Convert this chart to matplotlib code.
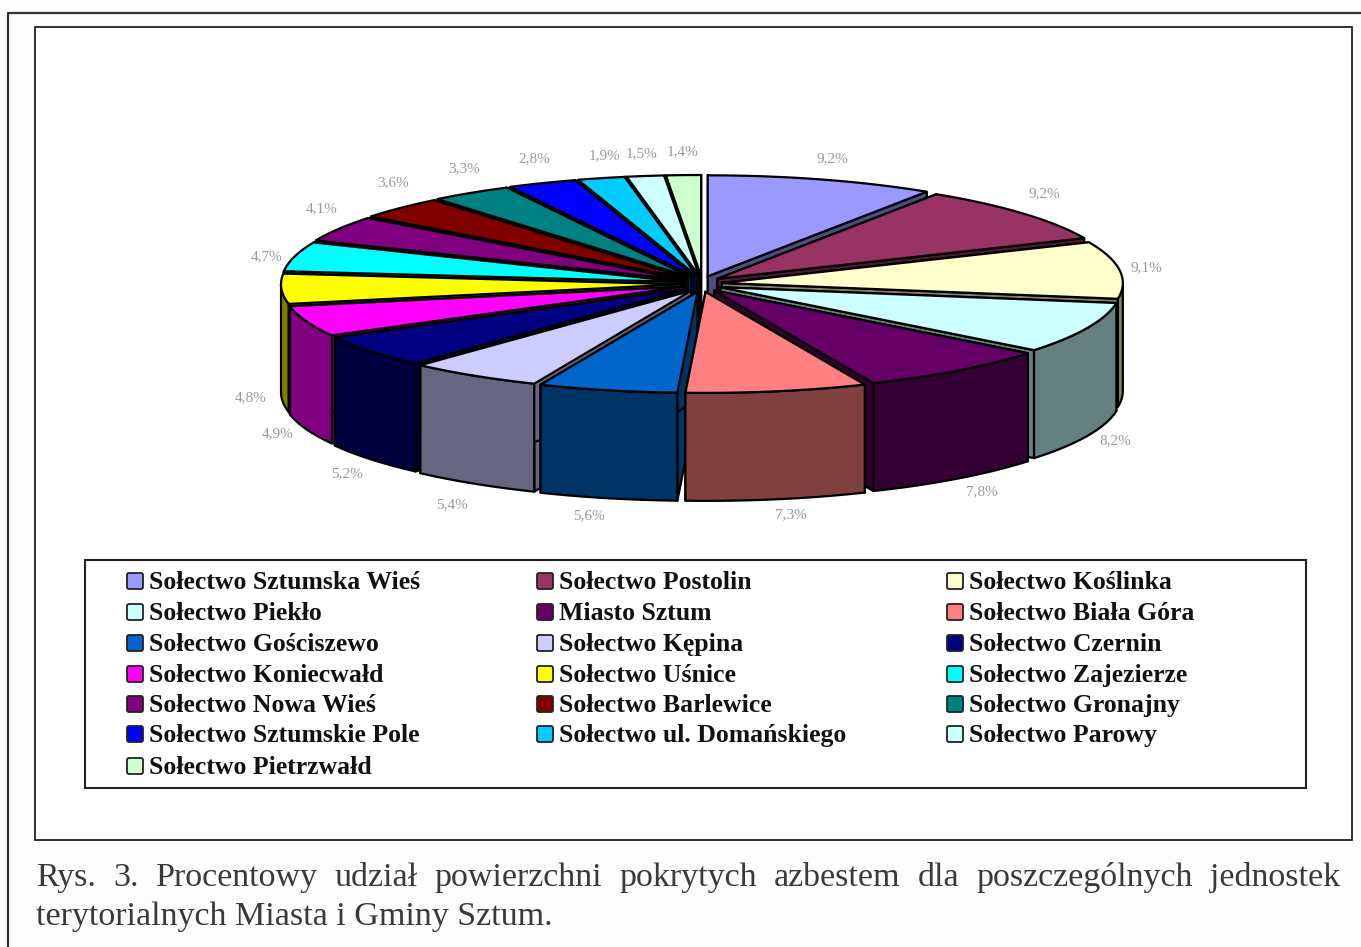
import numpy as np
import matplotlib
matplotlib.use('Agg')
import matplotlib.pyplot as plt
from matplotlib.patches import Polygon, Rectangle, FancyBboxPatch

# slices, clockwise from 12 o'clock
names = ['Sołectwo Sztumska Wieś', 'Sołectwo Postolin', 'Sołectwo Koślinka',
         'Sołectwo Piekło', 'Miasto Sztum', 'Sołectwo Biała Góra',
         'Sołectwo Gościszewo', 'Sołectwo Kępina', 'Sołectwo Czernin',
         'Sołectwo Koniecwałd', 'Sołectwo Uśnice', 'Sołectwo Zajezierze',
         'Sołectwo Nowa Wieś', 'Sołectwo Barlewice', 'Sołectwo Gronajny',
         'Sołectwo Sztumskie Pole', 'Sołectwo ul. Domańskiego', 'Sołectwo Parowy',
         'Sołectwo Pietrzwałd']
values = [9.2, 9.2, 9.1, 8.2, 7.8, 7.3, 5.6, 5.4, 5.2, 4.9, 4.8, 4.7, 4.1, 3.6, 3.3, 2.8, 1.9, 1.5, 1.4]
colors = ['#9999FF', '#993366', '#FFFFCC', '#CCFFFF', '#660066', '#FF8080', '#0066CC',
          '#CCCCFF', '#000080', '#FF00FF', '#FFFF00', '#00FFFF', '#800080', '#800000',
          '#008080', '#0000FF', '#00CCFF', '#CCFFFF', '#CCFFCC']

caption_1 = 'Rys. 3. Procentowy udział powierzchni pokrytych azbestem dla poszczególnych jednostek'
caption_2 = 'terytorialnych Miasta i Gminy Sztum.'

# pie geometry, pixels
cx, cy = 702, 284
rx, ry = 401, 101
depth = 108
explode_x, explode_y = 20, 8

# small shifts of the data labels from their computed spot
label_shift = {0: (2, 1), 1: (-2, -5), 2: (-4, 1), 4: (5, 3), 5: (8, 3), 6: (-12, 5), 7: (-5, 10), 8: (0, 6),
               11: (2, 6), 12: (9, -8), 13: (15, -9), 14: (10, -5), 15: (4, -3), 16: (11, 0)}

plt.rcParams['font.family'] = ['Liberation Serif', 'DejaVu Serif']

fig = plt.figure(figsize=(13.61, 9.47), dpi=100, facecolor='#FDFDFD')
ax = fig.add_axes([0, 0, 1, 1])
ax.set_xlim(0, 1361)
ax.set_ylim(947, 0)
ax.axis('off')

# outer page frame and chart frame
ax.plot([8, 8, 1361], [947, 13, 13], color='#333333', lw=1.6)
ax.add_patch(Rectangle((35, 27), 1317, 813, fc='white', ec='#222222', lw=1.3))


def darker(col):
    rgb = np.array(matplotlib.colors.to_rgb(col))
    return rgb * 0.5


def arc(a0, a1, ox, oy):
    t = np.radians(np.linspace(a0, a1, 60))
    return np.column_stack([ox + rx * np.sin(t), oy - ry * np.cos(t)])


def draw_slice(a0, a1, col):
    mid = np.radians((a0 + a1) / 2)
    ox = cx + explode_x * np.sin(mid)
    oy = cy - explode_y * np.cos(mid)
    top = arc(a0, a1, ox, oy)
    apex = np.array([ox, oy])
    down = np.array([0, depth])
    side = darker(col)
    style = dict(fc=side, ec='black', lw=1.6, joinstyle='round')
    # cut faces
    for p in (top[0], top[-1]):
        ax.add_patch(Polygon([apex, p, p + down, apex + down], **style))
    # outer wall, only the part facing the viewer
    lo, hi = max(a0, 90), min(a1, 270)
    if hi > lo:
        edge = arc(lo, hi, ox, oy)
        ax.add_patch(Polygon(np.vstack([edge, (edge + down)[::-1]]), **style))
    ax.add_patch(Polygon(np.vstack([apex, top]), fc=col, ec='black', lw=1.6))


edges = np.concatenate([[0], np.cumsum(values)]) / np.sum(values) * 360
order = sorted(range(len(values)), key=lambda i: -np.cos(np.radians((edges[i] + edges[i + 1]) / 2)))
for i in order:
    draw_slice(edges[i], edges[i + 1], colors[i])

# data labels
for i, v in enumerate(values):
    mid = np.radians((edges[i] + edges[i + 1]) / 2)
    lx = cx + 452 * np.sin(mid)
    if np.cos(mid) > 0:
        ly = cy - 132 * np.cos(mid)
    else:
        ly = cy + depth - 122 * np.cos(mid)
    dx, dy = label_shift.get(i, (0, 0))
    ax.text(lx + dx, ly + dy, f'{v:.1f}%'.replace('.', ','), ha='center', va='center',
            fontsize=11, color='#9A9A9A')

# legend
ax.add_patch(Rectangle((85, 560), 1221, 228, fc='white', ec='#222222', lw=1.5))
col_x = [127, 537, 947]
row_y = [581, 612, 643, 674, 704, 734, 766]
for i, name in enumerate(names):
    x = col_x[i % 3]
    y = row_y[i // 3]
    ax.add_patch(FancyBboxPatch((x, y - 8), 16, 16, boxstyle='round,pad=0,rounding_size=2',
                                fc=colors[i], ec='#222222', lw=1.3))
    ax.text(x + 22, y + 1, name, ha='left', va='center', fontsize=18.5, fontweight='bold', color='#111111')


# caption, first line justified
def justified(line, x0, x1, y, size):
    words = line.split(' ')
    rend = fig.canvas.get_renderer()
    widths = []
    for w in words:
        t = ax.text(0, 0, w, fontsize=size)
        widths.append(t.get_window_extent(rend).width)
        t.remove()
    gap = (x1 - x0 - sum(widths)) / (len(words) - 1)
    x = x0
    for w, width in zip(words, widths):
        ax.text(x, y, w, fontsize=size, color='#3A3A3A', ha='left', va='baseline')
        x += width + gap


justified(caption_1, 36, 1340, 886, 24.5)
ax.text(36, 925, caption_2, fontsize=24.5, color='#3A3A3A', ha='left', va='baseline')

fig.savefig('out.png', dpi=100, facecolor=fig.get_facecolor())
